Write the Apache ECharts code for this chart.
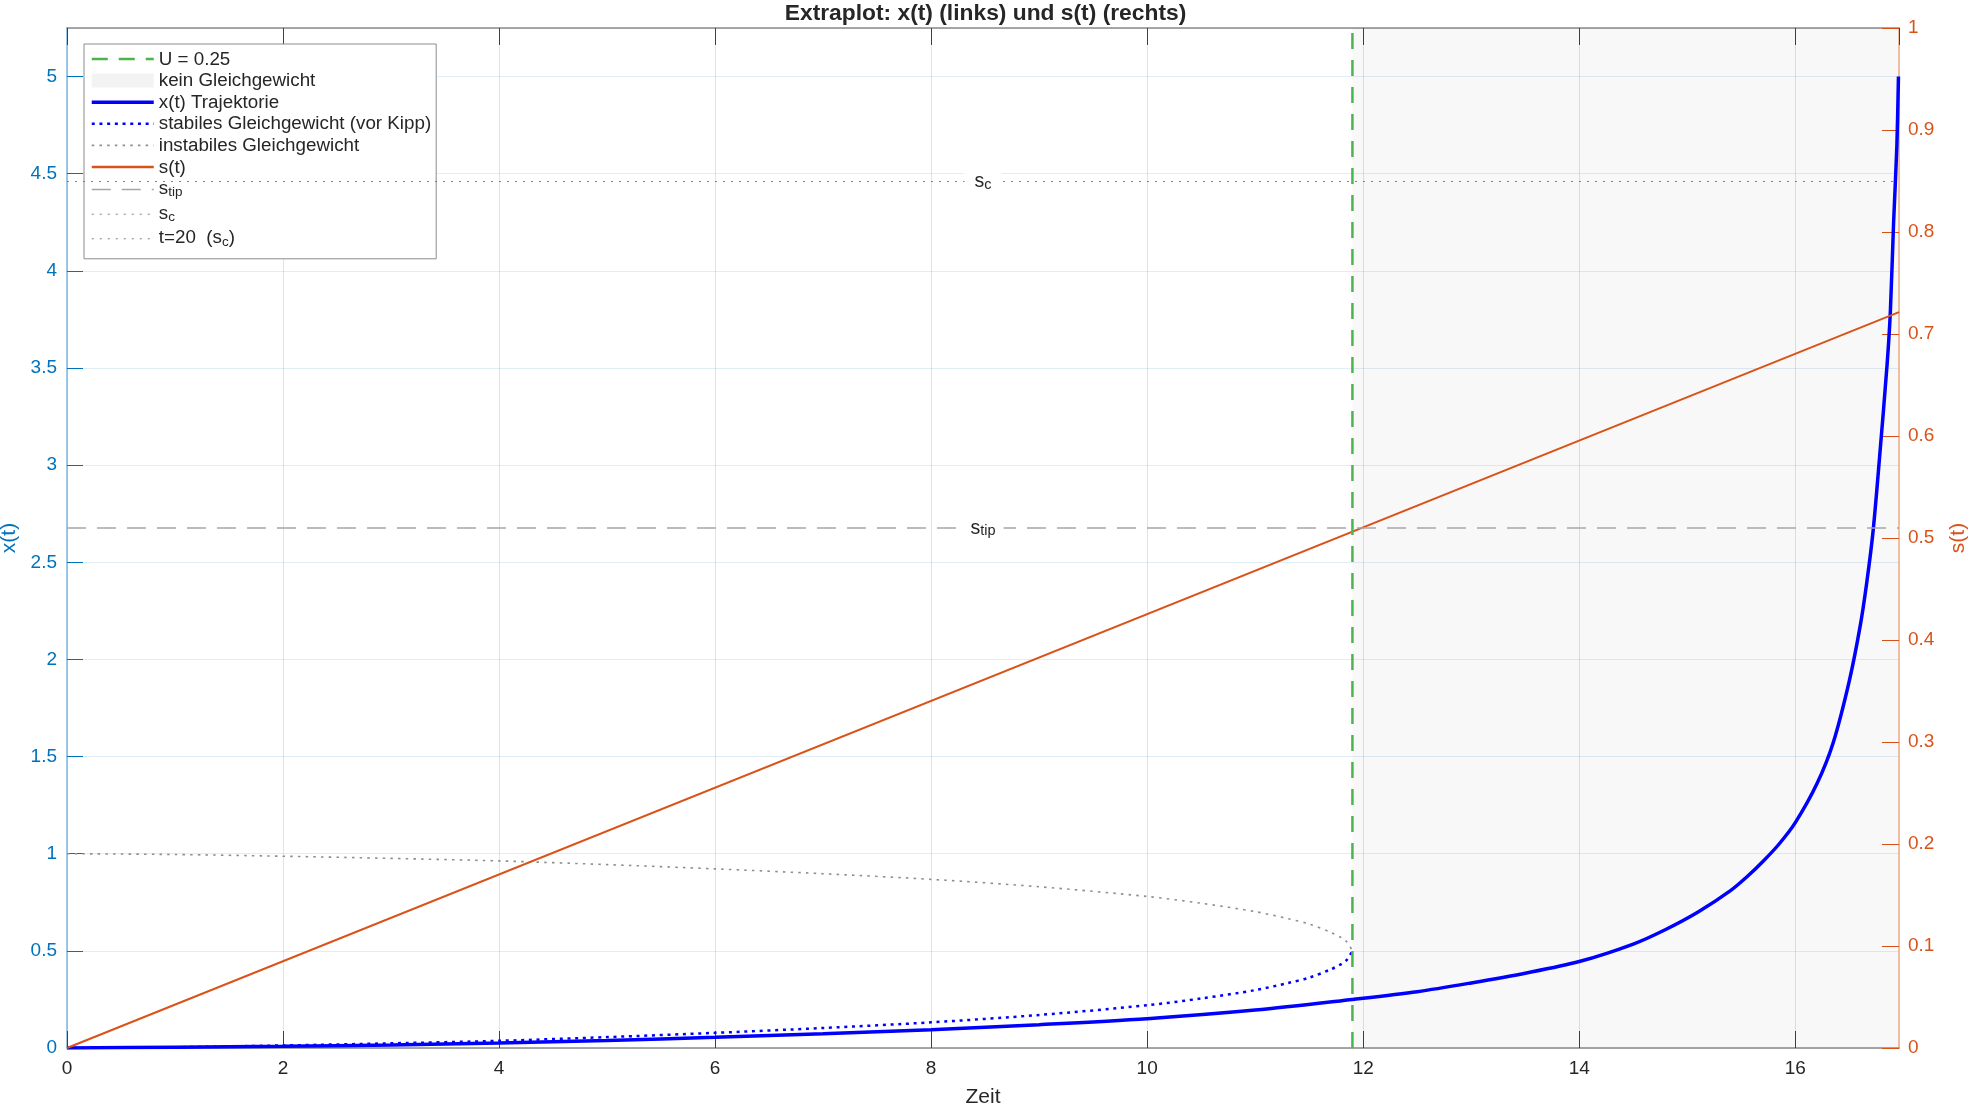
<!DOCTYPE html>
<html>
<head>
<meta charset="utf-8">
<script src="https://cdn.jsdelivr.net/npm/echarts@6/dist/echarts.min.js"></script>
<style>
  html, body { margin: 0; padding: 0; background: #fff; }
  #chart { width: 1971px; height: 1108px; }
</style>
</head>
<body>
<div id="chart"></div>
<script>
// ---------- data ----------
const X_MAX = 16.96;          // end of simulation (time)
const X_TOP = 5.25;           // left axis top
const T_TIP = 11.9;           // time of tipping (green line, start of "kein Gleichgewicht")
const T_SC = 20;              // vertical line t=20 (outside the view)
const S_TIP = 0.5058;
const S_C = 0.85;

// time grid for equilibria
const T_EQ = [0, 1, 2, 3, 4, 5, 6, 7, 8, 9, 10, 10.5, 11, 11.3, 11.5, 11.7, 11.8, 11.85, 11.9];
const X_STABLE = [0, 0.004, 0.013, 0.024, 0.037, 0.056, 0.078, 0.103, 0.132, 0.170, 0.220, 0.255, 0.298, 0.334, 0.362, 0.405, 0.433, 0.455, 0.5];
const X_UNSTABLE = [1, 0.996, 0.987, 0.976, 0.963, 0.944, 0.922, 0.897, 0.868, 0.830, 0.780, 0.745, 0.702, 0.666, 0.638, 0.595, 0.567, 0.545, 0.5];

// trajectory x(t)
const T_TRAJ = [0, 1, 2, 3, 4, 5, 6, 7, 8, 9, 10, 11, 11.9, 12.5, 13, 13.5, 14, 14.5, 14.8, 15.1, 15.4, 15.55, 15.7, 15.85, 16, 16.2, 16.35, 16.5, 16.6, 16.66, 16.72, 16.78, 16.85, 16.88, 16.91, 16.94, 16.955];
const X_TRAJ = [0, 0.004, 0.009, 0.016, 0.026, 0.039, 0.055, 0.073, 0.094, 0.12, 0.151, 0.195, 0.25, 0.29, 0.335, 0.385, 0.445, 0.535, 0.61, 0.70, 0.81, 0.88, 0.96, 1.05, 1.16, 1.36, 1.57, 1.89, 2.17, 2.39, 2.66, 3.04, 3.52, 3.79, 4.25, 4.64, 5.0];

// s(t) (right axis)
const T_S = [0, 16.96];
const S_VAL = [0, 0.7215];

// tick settings
const X_INTERVAL = 2;
const YL_INTERVAL = 0.5;
const YR_INTERVAL = 0.1;

// ---------- build ----------
const zip = (a, b) => a.map((v, i) => [v, b[i]]);
const FONT = '"Liberation Sans", Arial, Helvetica, sans-serif';
const TXT = '#262626';
const BLUE_AX = '#0072BD';
const ORANGE = '#D95319';

const RICH = {
  n: { fontSize: 18.8, lineHeight: 20, verticalAlign: 'bottom', color: TXT, fontFamily: FONT },
  m: { fontSize: 18.8, lineHeight: 20, padding: [0, 0, 3, 0], verticalAlign: 'top', color: TXT, fontFamily: FONT },
  s: { fontSize: 13.5, lineHeight: 14, verticalAlign: 'bottom', color: TXT, fontFamily: FONT }
};
const RICH_LBL = {
  n: { fontSize: 19.5, lineHeight: 20, verticalAlign: 'bottom', color: TXT, fontFamily: FONT },
  s: { fontSize: 14.5, lineHeight: 9, verticalAlign: 'bottom', color: TXT, fontFamily: FONT }
};
const LABELS = {
  's_tip': '{m|s}{s|tip}',
  's_c': '{m|s}{s|c}',
  't=20  (s_c)': '{m|t=20  (s}{s|c}{m|)}'
};

const chart = echarts.init(document.getElementById('chart'), null, { renderer: 'canvas' });

const option = {
  animation: false,
  textStyle: { fontFamily: FONT },
  title: {
    text: 'Extraplot: x(t) (links) und s(t) (rechts)',
    left: 'center',
    top: 2,
    padding: 0,
    textStyle: { fontSize: 22.8, fontWeight: 'bold', color: TXT, fontFamily: FONT }
  },
  grid: { left: 67, right: 72, top: 28, bottom: 60, containLabel: false, outerBoundsMode: 'none' },
  legend: {
    orient: 'vertical',
    left: 84, top: 44,
    selectedMode: false,
    itemWidth: 62, itemHeight: 14, itemGap: 2.6,
    backgroundColor: '#fff',
    borderColor: '#8c8c8c', borderWidth: 1, borderRadius: 0,
    padding: [6, 5, 8, 6],
    itemStyle: { opacity: 0 },
    textStyle: { color: TXT, fontSize: 18.8, rich: RICH },
    formatter: name => LABELS[name] || ('{n|' + name + '}'),
    data: [
      { name: 'U = 0.25', lineStyle: { width: 2.5 } },
      { name: 'kein Gleichgewicht', icon: 'rect', itemStyle: { color: '#f3f3f3', opacity: 1 } },
      { name: 'x(t) Trajektorie', lineStyle: { width: 3.5 } },
      { name: 'stabiles Gleichgewicht (vor Kipp)', lineStyle: { width: 2.5 } },
      { name: 'instabiles Gleichgewicht', lineStyle: { width: 1.6 } },
      { name: 's(t)', lineStyle: { width: 2.5 } },
      { name: 's_tip', lineStyle: { width: 1.5 } },
      { name: 's_c', lineStyle: { width: 1 } },
      { name: 't=20  (s_c)', lineStyle: { width: 1 } }
    ]
  },
  xAxis: [
    {
      type: 'value', min: 0, max: X_MAX, interval: X_INTERVAL, position: 'bottom',
      name: 'Zeit', nameLocation: 'middle', nameGap: 38.5,
      nameTextStyle: { fontSize: 21, color: TXT },
      axisLine: { show: true, onZero: false, lineStyle: { color: '#8a8a8a', width: 1.5 } },
      axisTick: { show: true, inside: true, length: 17, lineStyle: { color: '#404040', width: 1 } },
      axisLabel: { color: TXT, fontSize: 19, margin: 11, showMaxLabel: false },
      splitLine: { show: true, lineStyle: { color: 'rgba(38,38,38,0.13)', width: 1 } }
    },
    {
      type: 'value', min: 0, max: X_MAX, interval: X_INTERVAL, position: 'top',
      axisLine: { show: true, onZero: false, lineStyle: { color: '#8a8a8a', width: 1.5 } },
      axisTick: { show: true, inside: true, length: 17, lineStyle: { color: '#404040', width: 1 } },
      axisLabel: { show: false },
      splitLine: { show: false }
    }
  ],
  yAxis: [
    {
      type: 'value', min: 0, max: X_TOP, interval: YL_INTERVAL, position: 'left',
      name: 'x(t)', nameLocation: 'middle', nameRotate: 90, nameGap: 35.5,
      nameTextStyle: { fontSize: 21, color: BLUE_AX },
      axisLine: { show: true, onZero: false, lineStyle: { color: '#7fb6df', width: 1.5 } },
      axisTick: { show: true, inside: true, length: 16, lineStyle: { color: BLUE_AX, width: 1 } },
      axisLabel: { color: BLUE_AX, fontSize: 19, margin: 10, showMaxLabel: false },
      splitLine: { show: true, lineStyle: { color: 'rgba(0,114,189,0.12)', width: 1 } }
    },
    {
      type: 'value', min: 0, max: 1, interval: YR_INTERVAL, position: 'right',
      name: 's(t)', nameLocation: 'middle', nameRotate: 90, nameGap: 49,
      nameTextStyle: { fontSize: 21, color: ORANGE },
      axisLine: { show: true, onZero: false, lineStyle: { color: '#f0b08a', width: 1.5 } },
      axisTick: { show: true, inside: true, length: 17, lineStyle: { color: ORANGE, width: 1 } },
      axisLabel: { color: ORANGE, fontSize: 19, margin: 9, formatter: v => String(+v.toFixed(2)) },
      splitLine: { show: false }
    }
  ],
  series: [
    {
      name: 'kein Gleichgewicht', type: 'line', data: [[T_TIP, 0]],
      symbol: 'none', lineStyle: { width: 0 }, itemStyle: { color: '#f3f3f3' },
      markArea: {
        silent: true,
        itemStyle: { color: 'rgba(0,0,0,0.028)' },
        data: [[{ xAxis: T_TIP }, { xAxis: X_MAX }]]
      }
    },
    {
      name: 'instabiles Gleichgewicht', type: 'line', data: zip(T_EQ, X_UNSTABLE),
      symbol: 'none', smooth: 0.3,
      itemStyle: { color: '#8f8f8f' },
      lineStyle: { color: '#8f8f8f', width: 1.6, type: [2.5, 5.2] }
    },
    {
      name: 'stabiles Gleichgewicht (vor Kipp)', type: 'line', data: zip(T_EQ, X_STABLE),
      symbol: 'none', smooth: 0.3,
      itemStyle: { color: '#0000FF' },
      lineStyle: { color: '#0000FF', width: 2.5, type: [3, 4.7] }
    },
    {
      name: 'x(t) Trajektorie', type: 'line', data: zip(T_TRAJ, X_TRAJ),
      symbol: 'none', smooth: 0.3,
      itemStyle: { color: '#0000FF' },
      lineStyle: { color: '#0000FF', width: 3.5 }
    },
    {
      name: 's(t)', type: 'line', yAxisIndex: 1, data: zip(T_S, S_VAL),
      symbol: 'none',
      itemStyle: { color: ORANGE },
      lineStyle: { color: ORANGE, width: 2 }
    },
    {
      name: 's_tip', type: 'line', yAxisIndex: 1, data: [],
      symbol: 'none',
      itemStyle: { color: '#a6a6a6' },
      lineStyle: { color: '#a6a6a6', width: 1.5, type: [19, 11] },
      markLine: {
        silent: true, symbol: ['none', 'none'],
        lineStyle: { color: '#a6a6a6', width: 1.5, type: [19, 11] },
        label: {
          show: true, position: 'middle', formatter: '{n|s}{s|tip}', offset: [0, 18],
          backgroundColor: '#fff', padding: [2, 8], rich: RICH_LBL
        },
        data: [{ yAxis: S_TIP }]
      }
    },
    {
      name: 's_c', type: 'line', yAxisIndex: 1, data: [],
      symbol: 'none',
      itemStyle: { color: '#808080' },
      lineStyle: { color: '#808080', width: 1, type: [2, 6] },
      markLine: {
        silent: true, symbol: ['none', 'none'],
        lineStyle: { color: '#808080', width: 1, type: [2, 6] },
        label: {
          show: true, position: 'middle', formatter: '{n|s}{s|c}', offset: [0, 18],
          backgroundColor: '#fff', padding: [2, 10], rich: RICH_LBL
        },
        data: [{ yAxis: S_C }]
      }
    },
    {
      name: 't=20  (s_c)', type: 'line', data: [[T_SC, 0], [T_SC, X_TOP]],
      symbol: 'none', clip: true,
      itemStyle: { color: '#808080' },
      lineStyle: { color: '#808080', width: 1, type: [2, 6] }
    },
    {
      name: 'U = 0.25', type: 'line', data: [[T_TIP, 0], [T_TIP, X_TOP]],
      symbol: 'none', z: 5,
      itemStyle: { color: '#4DB34D' },
      lineStyle: { color: '#4DB34D', width: 2.5, type: [16, 11] }
    }
  ]
};

chart.setOption(option);
</script>
</body>
</html>
